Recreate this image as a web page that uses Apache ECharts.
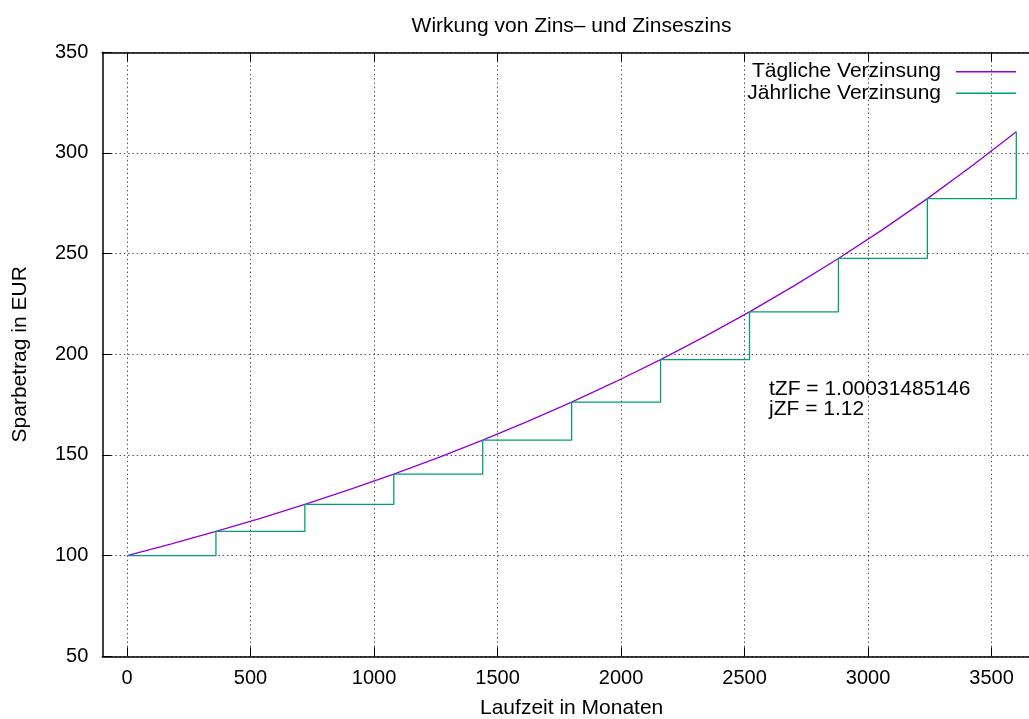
<!DOCTYPE html>
<html><head><meta charset="utf-8">
<script src="https://cdn.jsdelivr.net/npm/echarts@6/dist/echarts.min.js"></script>
<style>html,body{margin:0;padding:0;background:#fff}#c{width:1029px;height:719px}</style>
</head><body><div id="c"></div>
<script>
const titleText = 'Wirkung von Zins\u2013 und Zinseszins';
const xName = 'Laufzeit in Monaten';
const yName = 'Sparbetrag in EUR';
const xTicks = [0, 500, 1000, 1500, 2000, 2500, 3000, 3500];
const seriesNames = ['Tägliche Verzinsung', 'Jährliche Verzinsung'];
const noteLines = ['tZF = 1.00031485146', 'jZF = 1.12'];
// daily compounding curve, sampled every 180
const dailyX = [0, 180, 360, 540, 720, 900, 1080, 1260, 1440, 1620, 1800, 1980, 2160, 2340, 2520, 2700, 2880, 3060, 3240, 3420, 3600];
const dailyY = [100, 105.83, 112, 118.53, 125.44, 132.75, 140.49, 148.68, 157.35, 166.53, 176.23, 186.51, 197.38, 208.89, 221.07, 233.96, 247.60, 262.04, 277.31, 293.48, 310.58];
// yearly compounding steps
const yearlyX = [0, 360, 720, 1080, 1440, 1800, 2160, 2520, 2880, 3240, 3600];
const yearlyY = [100, 112, 125.44, 140.49, 157.35, 176.23, 197.38, 221.07, 247.60, 277.31, 310.58];

const FONT = "'Liberation Sans', Arial, sans-serif";
const zip = (a, b) => a.map((v, i) => [v, b[i]]);
const chart = echarts.init(document.getElementById('c'), null, {renderer: 'canvas'});
const gridLine = {show: true, lineStyle: {color: '#555', width: 1, type: [1.5, 2.8]}};
const axisLine = {show: true, onZero: false, lineStyle: {color: '#000', width: 1.5}};
const tick = {show: true, inside: true, length: 9, lineStyle: {color: '#000', width: 1}};
const legendBase = {orient: 'vertical', align: 'right', selectedMode: false, padding: 0, right: 13,
  icon: 'rect', itemWidth: 60, itemHeight: 1.4,
  textStyle: {fontSize: 21, fontFamily: FONT, color: '#000', padding: [0, 10, 0, 0]}};
chart.setOption({
  animation: false,
  backgroundColor: '#fff',
  textStyle: {fontFamily: FONT},
  title: {text: titleText, left: 571.5, textAlign: 'center', top: 16, padding: 0,
    textStyle: {fontSize: 21, fontWeight: 'normal', fontFamily: FONT, color: '#000'}},
  grid: {left: 102.3, width: 938.7, top: 52.3, height: 604, containLabel: false, outerBoundsMode: 'none'},
  legend: [
    Object.assign({data: [seriesNames[0]], top: 61.2}, legendBase),
    Object.assign({data: [seriesNames[1]], top: 82.8}, legendBase)
  ],
  xAxis: [
    {type: 'value', min: -100, max: 3700, position: 'bottom',
      name: xName, nameLocation: 'middle', nameGap: 41,
      nameTextStyle: {fontSize: 21, fontFamily: FONT, color: '#000'},
      axisLine: axisLine,
      axisTick: Object.assign({customValues: xTicks}, tick),
      axisLabel: {customValues: xTicks, fontSize: 20, fontFamily: FONT, color: '#000', margin: 12,
        hideOverlap: false, alignMinLabel: 'center', alignMaxLabel: 'center',
        formatter: v => (xTicks.indexOf(v) >= 0 ? String(v) : '')},
      splitLine: gridLine},
    {type: 'value', min: -100, max: 3700, position: 'top',
      axisLine: axisLine,
      axisTick: Object.assign({customValues: xTicks}, tick),
      axisLabel: {show: false},
      splitLine: {show: false}}
  ],
  yAxis: [
    {type: 'value', min: 50, max: 350, interval: 50, position: 'left',
      name: yName, nameLocation: 'middle', nameGap: 72, nameRotate: 90,
      nameTextStyle: {fontSize: 21, fontFamily: FONT, color: '#000'},
      axisLine: axisLine, axisTick: tick,
      axisLabel: {fontSize: 20, fontFamily: FONT, color: '#000', margin: 14, formatter: v => String(v)},
      splitLine: gridLine},
    {type: 'value', min: 50, max: 350, interval: 50, position: 'right',
      axisLine: axisLine, axisTick: tick, axisLabel: {show: false}, splitLine: {show: false}}
  ],
  series: [
    {name: seriesNames[0], type: 'line', data: zip(dailyX, dailyY), showSymbol: false, symbol: 'none',
      lineStyle: {color: '#9400D3', width: 1.3}, itemStyle: {color: '#9400D3'}},
    {name: seriesNames[1], type: 'line', step: 'end', data: zip(yearlyX, yearlyY), showSymbol: false, symbol: 'none',
      lineStyle: {color: '#009E73', width: 1.3}, itemStyle: {color: '#009E73'}}
  ],
  graphic: [
    {type: 'text', left: 769, top: 378.5,
      style: {text: noteLines.join('\n'), font: '21px ' + FONT, fill: '#000', lineHeight: 20}}
  ]
});
</script></body></html>
